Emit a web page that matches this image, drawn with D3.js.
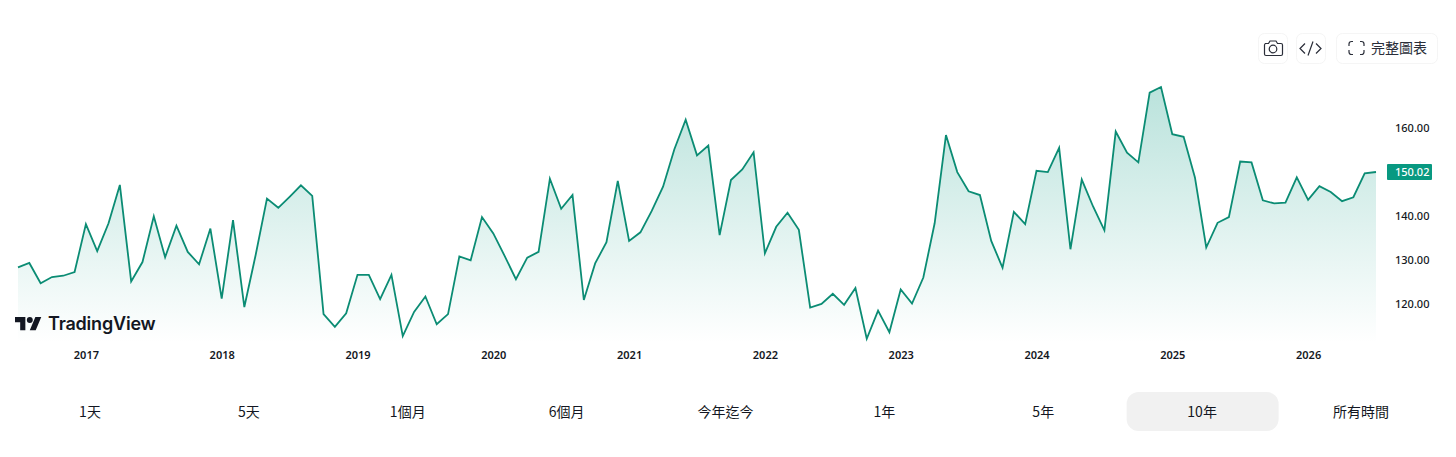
<!DOCTYPE html>
<html>
<head>
<meta charset="utf-8">
<script src="https://cdn.jsdelivr.net/npm/d3@7/dist/d3.min.js"></script>
<style>
    body { margin: 0; background: #fff; overflow: hidden; }
    text { font-family: "Noto Sans CJK TC", "Noto Sans", sans-serif; fill: #131722; }
    .axis text { font-family: "Noto Sans", sans-serif; font-size: 11px; }
    .axis--x text { font-weight: 600; }
    .axis--y text { font-weight: 500; }
</style>
</head>
<body>
<div id="chart"></div>
<script>
// monthly closes, jul 2016 - jul 2026
var prices = [
    128.4, 129.4, 124.8, 126.2, 126.5, 127.35,
    138.2, 132.1, 138.4, 147.1, 125.2, 129.6, 140.0, 130.7, 137.85, 131.9, 129.1, 137.2,
    121.3, 139.1, 119.4, 131.2, 144.0, 141.9, 144.4, 147.0, 144.6, 117.8, 114.9, 118.0,
    126.7, 126.7, 121.2, 126.7, 112.8, 118.3, 121.8, 115.5, 117.8, 130.9, 130.0, 139.8,
    136.1, 131.0, 125.7, 130.6, 131.9, 148.5, 141.7, 144.8, 121.0, 129.3, 134.1, 148.0,
    134.4, 136.35, 141.2, 146.7, 155.2, 161.9, 153.8, 156.0, 135.7, 148.2, 150.6, 154.5,
    131.6, 137.6, 140.8, 136.9, 119.3, 120.1, 122.4, 119.9, 123.7, 112.2, 118.6, 113.7,
    123.4, 120.2, 126.1, 138.4, 158.4, 150.0, 145.65, 144.8, 134.4, 128.3, 141.0, 138.2,
    150.3, 150.0, 155.5, 132.5, 148.3, 142.2, 136.8, 159.2, 154.4, 152.2, 168.0, 169.3,
    158.6, 158.0, 148.8, 132.9, 138.5, 139.8, 152.4, 152.2, 143.6, 142.9, 143.1, 148.8,
    143.7, 146.8, 145.5, 143.4, 144.3, 149.7, 150.02
];
var years = ["2017", "2018", "2019", "2020", "2021", "2022", "2023", "2024", "2025", "2026"];
var yearIndex = [6, 18, 30, 42, 54, 66, 78, 90, 102, 114];
var priceTicks = [120, 130, 140, 160];
var lastPrice = 150.02;
var ranges = ["1天", "5天", "1個月", "6個月", "今年迄今", "1年", "5年", "10年", "所有時間"];
var activeRange = "10年";

var width = 1456, height = 457;
var green = "#089981";
var lineGreen = "#0b8c74";
var paneBottom = 343;

var x = d3.scaleLinear().domain([0, prices.length - 1]).range([18, 1376]);
var y = d3.scaleLinear().domain([120, 160]).range([304.4, 128]);

var svg = d3.select("#chart").append("svg")
    .attr("width", width)
    .attr("height", height)
    .style("display", "block");

var grad = svg.append("defs").append("linearGradient")
    .attr("id", "fade")
    .attr("gradientUnits", "userSpaceOnUse")
    .attr("x1", 0).attr("x2", 0)
    .attr("y1", y(d3.max(prices))).attr("y2", paneBottom);
grad.append("stop").attr("offset", "0%").attr("stop-color", green).attr("stop-opacity", 0.28);
grad.append("stop").attr("offset", "100%").attr("stop-color", green).attr("stop-opacity", 0);

var area = d3.area()
    .x(function (d, i) { return x(i); })
    .y0(paneBottom)
    .y1(function (d) { return y(d); });
var line = d3.line()
    .x(function (d, i) { return x(i); })
    .y(function (d) { return y(d); });

svg.append("path").datum(prices).attr("d", area).attr("fill", "url(#fade)");
svg.append("path").datum(prices).attr("d", line)
    .attr("fill", "none")
    .attr("stroke", lineGreen)
    .attr("stroke-width", 1.8)
    .attr("stroke-linejoin", "miter");

// x axis
var xAxis = svg.append("g")
    .attr("class", "axis axis--x")
    .attr("transform", "translate(0,351)")
    .call(d3.axisBottom(x)
        .tickValues(yearIndex)
        .tickFormat(function (d) { return years[yearIndex.indexOf(d)]; })
        .tickSize(0)
        .tickPadding(0));
xAxis.select(".domain").remove();

// y axis
var yAxis = svg.append("g")
    .attr("class", "axis axis--y")
    .attr("transform", "translate(1395,0)")
    .call(d3.axisRight(y)
        .tickValues(priceTicks)
        .tickFormat(d3.format(".2f"))
        .tickSize(0)
        .tickPadding(0));
yAxis.select(".domain").remove();

// last price tag
svg.append("rect")
    .attr("x", 1387).attr("y", y(lastPrice) - 8)
    .attr("width", 45).attr("height", 16)
    .attr("rx", 1)
    .attr("fill", green);
svg.append("text")
    .attr("x", 1395).attr("y", y(lastPrice))
    .attr("dy", "0.34em")
    .style("font-family", '"Noto Sans", sans-serif')
    .style("font-size", "11px")
    .style("font-weight", 500)
    .style("fill", "#fff")
    .text(d3.format(".2f")(lastPrice));

// logo
var logo = svg.append("g").attr("transform", "translate(15,314) scale(0.74)");
logo.append("path").attr("d", "M14 22H7V11H0V4h14v18zM28 22h-8l7.5-18h8L28 22z").attr("fill", "#131722");
logo.append("circle").attr("cx", 20).attr("cy", 8).attr("r", 4).attr("fill", "#131722");
svg.append("text")
    .attr("x", 48).attr("y", 330)
    .style("font-family", "Inter, sans-serif")
    .style("font-size", "18px")
    .style("font-weight", 600)
    .style("letter-spacing", "-0.2px")
    .text("TradingView");

// range buttons
var rangeX = d3.scalePoint().domain(ranges).range([90, 1361]);
svg.append("rect")
    .attr("x", rangeX(activeRange) - 75.500).attr("y", 392)
    .attr("width", 152).attr("height", 39)
    .attr("rx", 12)
    .attr("fill", "#f1f1f1");
svg.selectAll(".range")
    .data(ranges)
    .enter().append("text")
    .attr("class", "range")
    .attr("x", function (d) { return rangeX(d); })
    .attr("y", 412)
    .attr("dy", "0.35em")
    .attr("text-anchor", "middle")
    .style("font-size", "14px")
    .text(function (d) { return d; });

// top right toolbar
function toolButton(bx, bw) {
    svg.append("rect")
        .attr("x", bx + 0.5).attr("y", 33.5)
        .attr("width", bw).attr("height", 30)
        .attr("rx", 6)
        .attr("fill", "#fff")
        .attr("stroke", "#f5f5f5");
}
toolButton(1258, 29);
toolButton(1296, 29);
toolButton(1336, 101);

function stroked(sel) {
    return sel.attr("fill", "none").attr("stroke", "#2a2e39").attr("stroke-width", 1.2);
}
stroked(svg.append("path")).attr("d", "M1265 43.500h3.500l1.500-2.500h6l1.500 2.500h3.500q1.500 0 1.500 1.500v9q0 1.500-1.500 1.500h-15q-1.500 0-1.500-1.500v-9q0-1.500 1.500-1.500z");
stroked(svg.append("circle")).attr("cx", 1273).attr("cy", 49).attr("r", 3.8);
stroked(svg.append("path")).attr("d", "M1305 43.500l-5 5 5 5M1316 43.500l5 5-5 5M1313 41.500l-5 14");
stroked(svg.append("path")).attr("d", "M1349 46v-2q0-2.500 2.500-2.500h1.500M1360 41.500h1.500q2.500 0 2.500 2.500v2M1364 50v2q0 2.500-2.500 2.500h-1.500M1353 54.500h-1.500q-2.500 0-2.500-2.500v-2");
svg.append("text")
    .attr("x", 1371).attr("y", 48)
    .attr("dy", "0.35em")
    .style("font-size", "14px")
    .style("fill", "#2a2e39")
    .text("完整圖表");
</script>
</body>
</html>
